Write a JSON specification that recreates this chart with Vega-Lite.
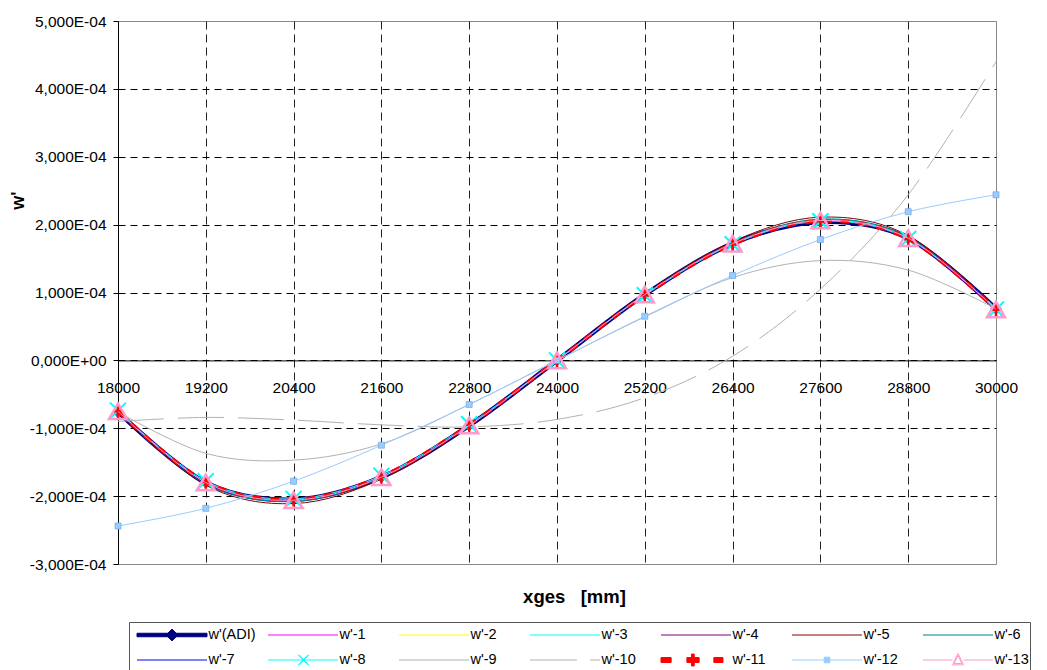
{
  "$schema": "https://vega.github.io/schema/vega-lite/v6.json",
  "autosize": {"type": "none"},
  "padding": {"left": 118, "top": 21, "right": 51, "bottom": 106},
  "width": 878,
  "height": 543,
  "background": "white",
  "config": {
    "view": {"stroke": "#888888", "strokeWidth": 1},
    "axis": {"labelFont": "Liberation Sans", "titleFont": "Liberation Sans", "labelColor": "black", "titleColor": "black"},
    "legend": {"columns": 7, "direction": "horizontal", "symbolSize": 4900, "symbolStrokeWidth": 1, "symbolOffset": 6.5, "labelOffset": 1, "clipHeight": 24, "rowPadding": 1, "columnPadding": 5, "gridAlign": "all", "padding": 1, "strokeColor": "#555555", "fillColor": "white", "labelFont": "Liberation Sans", "labelFontSize": 14.5, "labelColor": "black", "labelLimit": 300}
  },
  "datasets": {
    "series": [
      {"s":"w'(ADI)","x":18000,"y":-7.6e-5},{"s":"w'(ADI)","x":19200,"y":-1.80e-4},{"s":"w'(ADI)","x":20400,"y":-2.05e-4},{"s":"w'(ADI)","x":21600,"y":-1.72e-4},{"s":"w'(ADI)","x":22800,"y":-9.6e-5},{"s":"w'(ADI)","x":24000,"y":0},{"s":"w'(ADI)","x":25200,"y":9.7e-5},{"s":"w'(ADI)","x":26400,"y":1.72e-4},{"s":"w'(ADI)","x":27600,"y":2.04e-4},{"s":"w'(ADI)","x":28800,"y":1.80e-4},{"s":"w'(ADI)","x":30000,"y":7.6e-5},
      {"s":"w'-1","x":18000,"y":-7.4e-5},{"s":"w'-1","x":19200,"y":-1.78e-4},{"s":"w'-1","x":20400,"y":-2.04e-4},{"s":"w'-1","x":21600,"y":-1.70e-4},{"s":"w'-1","x":22800,"y":-9.5e-5},{"s":"w'-1","x":24000,"y":1e-6},{"s":"w'-1","x":25200,"y":9.6e-5},{"s":"w'-1","x":26400,"y":1.71e-4},{"s":"w'-1","x":27600,"y":2.05e-4},{"s":"w'-1","x":28800,"y":1.79e-4},{"s":"w'-1","x":30000,"y":7.4e-5},
      {"s":"w'-2","x":18000,"y":-7.5e-5},{"s":"w'-2","x":19200,"y":-1.79e-4},{"s":"w'-2","x":20400,"y":-2.06e-4},{"s":"w'-2","x":21600,"y":-1.71e-4},{"s":"w'-2","x":22800,"y":-9.6e-5},{"s":"w'-2","x":24000,"y":0},{"s":"w'-2","x":25200,"y":9.7e-5},{"s":"w'-2","x":26400,"y":1.72e-4},{"s":"w'-2","x":27600,"y":2.06e-4},{"s":"w'-2","x":28800,"y":1.80e-4},{"s":"w'-2","x":30000,"y":7.5e-5},
      {"s":"w'-3","x":18000,"y":-7.5e-5},{"s":"w'-3","x":19200,"y":-1.81e-4},{"s":"w'-3","x":20400,"y":-2.07e-4},{"s":"w'-3","x":21600,"y":-1.72e-4},{"s":"w'-3","x":22800,"y":-9.6e-5},{"s":"w'-3","x":24000,"y":0},{"s":"w'-3","x":25200,"y":9.7e-5},{"s":"w'-3","x":26400,"y":1.72e-4},{"s":"w'-3","x":27600,"y":2.08e-4},{"s":"w'-3","x":28800,"y":1.81e-4},{"s":"w'-3","x":30000,"y":7.5e-5},
      {"s":"w'-4","x":18000,"y":-7.3e-5},{"s":"w'-4","x":19200,"y":-1.79e-4},{"s":"w'-4","x":20400,"y":-2.06e-4},{"s":"w'-4","x":21600,"y":-1.71e-4},{"s":"w'-4","x":22800,"y":-9.5e-5},{"s":"w'-4","x":24000,"y":0},{"s":"w'-4","x":25200,"y":9.6e-5},{"s":"w'-4","x":26400,"y":1.71e-4},{"s":"w'-4","x":27600,"y":2.05e-4},{"s":"w'-4","x":28800,"y":1.78e-4},{"s":"w'-4","x":30000,"y":7.3e-5},
      {"s":"w'-5","x":18000,"y":-7.7e-5},{"s":"w'-5","x":19200,"y":-1.84e-4},{"s":"w'-5","x":20400,"y":-2.11e-4},{"s":"w'-5","x":21600,"y":-1.75e-4},{"s":"w'-5","x":22800,"y":-9.7e-5},{"s":"w'-5","x":24000,"y":0},{"s":"w'-5","x":25200,"y":9.8e-5},{"s":"w'-5","x":26400,"y":1.75e-4},{"s":"w'-5","x":27600,"y":2.11e-4},{"s":"w'-5","x":28800,"y":1.84e-4},{"s":"w'-5","x":30000,"y":7.7e-5},
      {"s":"w'-6","x":18000,"y":-7.6e-5},{"s":"w'-6","x":19200,"y":-1.82e-4},{"s":"w'-6","x":20400,"y":-2.08e-4},{"s":"w'-6","x":21600,"y":-1.73e-4},{"s":"w'-6","x":22800,"y":-9.6e-5},{"s":"w'-6","x":24000,"y":0},{"s":"w'-6","x":25200,"y":9.7e-5},{"s":"w'-6","x":26400,"y":1.73e-4},{"s":"w'-6","x":27600,"y":2.08e-4},{"s":"w'-6","x":28800,"y":1.82e-4},{"s":"w'-6","x":30000,"y":7.6e-5},
      {"s":"w'-7","x":18000,"y":-7.6e-5},{"s":"w'-7","x":19200,"y":-1.81e-4},{"s":"w'-7","x":20400,"y":-2.06e-4},{"s":"w'-7","x":21600,"y":-1.72e-4},{"s":"w'-7","x":22800,"y":-9.6e-5},{"s":"w'-7","x":24000,"y":0},{"s":"w'-7","x":25200,"y":9.7e-5},{"s":"w'-7","x":26400,"y":1.72e-4},{"s":"w'-7","x":27600,"y":2.05e-4},{"s":"w'-7","x":28800,"y":1.80e-4},{"s":"w'-7","x":30000,"y":7.6e-5},
      {"s":"w'-8","x":18000,"y":-7.4e-5},{"s":"w'-8","x":19200,"y":-1.78e-4},{"s":"w'-8","x":20400,"y":-2.04e-4},{"s":"w'-8","x":21600,"y":-1.70e-4},{"s":"w'-8","x":22800,"y":-9.4e-5},{"s":"w'-8","x":24000,"y":0},{"s":"w'-8","x":25200,"y":9.6e-5},{"s":"w'-8","x":26400,"y":1.71e-4},{"s":"w'-8","x":27600,"y":2.05e-4},{"s":"w'-8","x":28800,"y":1.79e-4},{"s":"w'-8","x":30000,"y":7.5e-5},
      {"s":"w'-9","x":18000,"y":-7.6e-5},{"s":"w'-9","x":19200,"y":-1.37e-4},{"s":"w'-9","x":20400,"y":-1.47e-4},{"s":"w'-9","x":21600,"y":-1.23e-4},{"s":"w'-9","x":22800,"y":-6.5e-5},{"s":"w'-9","x":24000,"y":0},{"s":"w'-9","x":25200,"y":6.4e-5},{"s":"w'-9","x":26400,"y":1.22e-4},{"s":"w'-9","x":27600,"y":1.47e-4},{"s":"w'-9","x":28800,"y":1.33e-4},{"s":"w'-9","x":30000,"y":7.6e-5},
      {"s":"w'-10","x":18000,"y":-9.0e-5},{"s":"w'-10","x":19200,"y":-8.4e-5},{"s":"w'-10","x":20400,"y":-8.8e-5},{"s":"w'-10","x":21600,"y":-9.5e-5},{"s":"w'-10","x":22800,"y":-9.8e-5},{"s":"w'-10","x":24000,"y":-8.7e-5},{"s":"w'-10","x":25200,"y":-5.5e-5},{"s":"w'-10","x":26400,"y":6e-6},{"s":"w'-10","x":27600,"y":1.05e-4},{"s":"w'-10","x":28800,"y":2.44e-4},{"s":"w'-10","x":30000,"y":4.40e-4},
      {"s":"w'-11","x":18000,"y":-7.5e-5},{"s":"w'-11","x":19200,"y":-1.79e-4},{"s":"w'-11","x":20400,"y":-2.05e-4},{"s":"w'-11","x":21600,"y":-1.71e-4},{"s":"w'-11","x":22800,"y":-9.5e-5},{"s":"w'-11","x":24000,"y":0},{"s":"w'-11","x":25200,"y":9.6e-5},{"s":"w'-11","x":26400,"y":1.71e-4},{"s":"w'-11","x":27600,"y":2.05e-4},{"s":"w'-11","x":28800,"y":1.79e-4},{"s":"w'-11","x":30000,"y":7.5e-5},
      {"s":"w'-12","x":18000,"y":-2.44e-4},{"s":"w'-12","x":19200,"y":-2.18e-4},{"s":"w'-12","x":20400,"y":-1.78e-4},{"s":"w'-12","x":21600,"y":-1.25e-4},{"s":"w'-12","x":22800,"y":-6.5e-5},{"s":"w'-12","x":24000,"y":0},{"s":"w'-12","x":25200,"y":6.5e-5},{"s":"w'-12","x":26400,"y":1.25e-4},{"s":"w'-12","x":27600,"y":1.78e-4},{"s":"w'-12","x":28800,"y":2.19e-4},{"s":"w'-12","x":30000,"y":2.44e-4},
      {"s":"w'-13","x":18000,"y":-7.5e-5},{"s":"w'-13","x":19200,"y":-1.80e-4},{"s":"w'-13","x":20400,"y":-2.06e-4},{"s":"w'-13","x":21600,"y":-1.72e-4},{"s":"w'-13","x":22800,"y":-9.6e-5},{"s":"w'-13","x":24000,"y":0},{"s":"w'-13","x":25200,"y":9.7e-5},{"s":"w'-13","x":26400,"y":1.72e-4},{"s":"w'-13","x":27600,"y":2.06e-4},{"s":"w'-13","x":28800,"y":1.80e-4},{"s":"w'-13","x":30000,"y":7.5e-5}
    ],
    "names": [
      {"s":"w'(ADI)"},{"s":"w'-1"},{"s":"w'-2"},{"s":"w'-3"},{"s":"w'-4"},{"s":"w'-5"},{"s":"w'-6"},
      {"s":"w'-7"},{"s":"w'-8"},{"s":"w'-9"},{"s":"w'-10"},{"s":"w'-11"},{"s":"w'-12"},{"s":"w'-13"}
    ]
  },
  "data": {"name": "series"},
  "encoding": {
    "x": {
      "field": "x", "type": "quantitative",
      "scale": {"domain": [18000, 30000], "nice": false, "zero": false},
      "axis": {
        "values": [18000, 19200, 20400, 21600, 22800, 24000, 25200, 26400, 27600, 28800, 30000],
        "format": "d",
        "offset": -203.6,
        "tickSize": 0,
        "labelPadding": 20,
        "labelFontSize": 15.5,
        "labelFlush": false,
        "labelOverlap": false,
        "domainColor": "black",
        "domainWidth": 1,
        "grid": true,
        "gridColor": "#222222",
        "gridDash": [8, 5],
        "gridWidth": 1,
        "gridOpacity": {"condition": {"test": "datum.value >= 29999 || datum.value <= 18001", "value": 0}, "value": 1},
        "title": "xges\u00a0\u00a0 [mm]",
        "titleFontSize": 18.5,
        "titleFontWeight": "bold",
        "titleX": 456,
        "titleY": 242,
        "titleBaseline": "alphabetic",
        "titleAlign": "center"
      }
    },
    "y": {
      "field": "y", "type": "quantitative",
      "scale": {"domain": [-0.0003, 0.0005], "nice": false, "zero": false},
      "axis": {
        "values": [-0.0003, -0.0002, -0.0001, 0, 0.0001, 0.0002, 0.0003, 0.0004, 0.0005],
        "labelExpr": "replace(replace(replace(replace(format(datum.value, '.3e'), '.', ','), 'e-', 'E-0'), 'e+', 'E+0'), '−', '-')",
        "tickSize": 5,
        "tickColor": "black",
        "labelPadding": 7,
        "labelFontSize": 15.5,
        "labelFlush": false,
        "labelOverlap": false,
        "domainColor": "black",
        "domainWidth": 1,
        "grid": true,
        "gridColor": "black",
        "gridDash": [7, 5],
        "gridWidth": 1,
        "gridOpacity": {"condition": {"test": "datum.value > 0.00045 || datum.value < -0.00025", "value": 0}, "value": 1},
        "title": "w'",
        "titleFontSize": 18,
        "titleFontWeight": "bold",
        "titleX": -100,
        "titleY": 179,
        "titleAngle": -90,
        "titleAlign": "center",
        "titleBaseline": "middle"
      }
    }
  },
  "layer": [
    {
      "transform": [{"filter": {"field": "s", "equal": "w'(ADI)"}}],
      "mark": {"type": "line", "interpolate": "cardinal", "strokeWidth": 4.5},
      "encoding": {"color": {"field": "s", "type": "nominal", "legend": null,
        "scale": {"domain": ["w'-13","w'-12","w'-11","w'-10","w'-9","w'-8","w'-7","w'-6","w'-5","w'-4","w'-3","w'-2","w'-1","w'(ADI)"],
                  "range": ["#FF99CC","#99CCFF","#FF0000","#B2B2B2","#B2B2B2","#00FFFF","#0000FF","#008080","#800000","#800080","#00FFFF","#FFFF00","#FF00FF","#000080"]}}}
    },
    {
      "transform": [{"filter": {"field": "s", "equal": "w'(ADI)"}}],
      "mark": {"type": "point", "shape": "diamond", "filled": true, "color": "#666699", "size": 144, "opacity": 1}
    },
    {
      "transform": [{"filter": {"field": "s", "oneOf": ["w'-1","w'-2","w'-3","w'-4","w'-5","w'-6","w'-7","w'-8","w'-9"]}}],
      "mark": {"type": "line", "interpolate": "cardinal", "strokeWidth": 1},
      "encoding": {"color": {"field": "s", "type": "nominal", "legend": null}}
    },
    {
      "transform": [{"filter": {"field": "s", "equal": "w'-8"}}],
      "mark": {"type": "point", "shape": "M-1,-1L1,1M-1,1L1,-1", "filled": false, "color": "#00FFFF", "strokeWidth": 2, "size": 256, "opacity": 1}
    },
    {
      "transform": [{"filter": {"field": "s", "equal": "w'-10"}}],
      "mark": {"type": "line", "interpolate": "cardinal", "strokeWidth": 1, "strokeDash": [46, 14]},
      "encoding": {"color": {"field": "s", "type": "nominal", "legend": null}}
    },
    {
      "transform": [{"filter": {"field": "s", "equal": "w'-11"}}],
      "mark": {"type": "line", "interpolate": "cardinal", "strokeWidth": 3.5, "strokeDash": [9, 9]},
      "encoding": {"color": {"field": "s", "type": "nominal", "legend": null}}
    },
    {
      "transform": [{"filter": {"field": "s", "equal": "w'-11"}}],
      "mark": {"type": "point", "shape": "M-0.6,0L0.6,0M0,-1L0,1", "filled": false, "color": "#FF0000", "strokeWidth": 2.5, "size": 196, "opacity": 1}
    },
    {
      "transform": [{"filter": {"field": "s", "equal": "w'-12"}}],
      "mark": {"type": "line", "interpolate": "cardinal", "strokeWidth": 1},
      "encoding": {"color": {"field": "s", "type": "nominal", "legend": null}}
    },
    {
      "transform": [{"filter": {"field": "s", "equal": "w'-12"}}],
      "mark": {"type": "point", "shape": "square", "filled": true, "color": "#99CCFF", "stroke": "#6FA8E8", "strokeWidth": 0.7, "size": 36, "opacity": 1}
    },
    {
      "transform": [{"filter": {"field": "s", "equal": "w'-13"}}],
      "mark": {"type": "line", "interpolate": "cardinal", "strokeWidth": 1},
      "encoding": {"color": {"field": "s", "type": "nominal", "legend": null}}
    },
    {
      "transform": [{"filter": {"field": "s", "equal": "w'-13"}}],
      "mark": {"type": "point", "shape": "triangle-up", "filled": false, "color": "#FF99CC", "strokeWidth": 2.5, "size": 324, "opacity": 1}
    },
    {
      "data": {"name": "names"},
      "mark": {"type": "point", "filled": true, "opacity": 1, "strokeWidth": 1},
      "encoding": {
        "stroke": {"field": "s", "type": "nominal",
          "scale": {"domain": ["w'(ADI)","w'-1","w'-2","w'-3","w'-4","w'-5","w'-6","w'-7","w'-8","w'-9","w'-10","w'-11","w'-12","w'-13"],
                    "range": ["#000080","#FF00FF","#FFFF00","#00FFFF","#800080","#800000","#008080","#0000FF","#00FFFF","#B2B2B2","#B2B2B2","#FF0000","#99CCFF","#FF99CC"]},
          "legend": {"title": null, "orient": "none", "legendX": 11, "legendY": 601, "direction": "horizontal"}},
        "fill": {"field": "s", "type": "nominal",
          "scale": {"domain": ["w'(ADI)","w'-1","w'-2","w'-3","w'-4","w'-5","w'-6","w'-7","w'-8","w'-9","w'-10","w'-11","w'-12","w'-13"],
                    "range": ["#000080","transparent","transparent","transparent","transparent","transparent","transparent","transparent","transparent","transparent","transparent","#FF0000","#99CCFF","#FFFFFF"]},
          "legend": {"title": null, "orient": "none", "legendX": 11, "legendY": 601, "direction": "horizontal"}},
        "shape": {"field": "s", "type": "nominal",
          "scale": {"domain": ["w'(ADI)","w'-1","w'-2","w'-3","w'-4","w'-5","w'-6","w'-7","w'-8","w'-9","w'-10","w'-11","w'-12","w'-13"],
                    "range": [
                      "M-1,-0.05H1V0.05H-1ZM0,-0.17L0.17,0L0,0.17L-0.17,0Z",
                      "M-1,0H1","M-1,0H1","M-1,0H1","M-1,0H1","M-1,0H1","M-1,0H1","M-1,0H1",
                      "M-1,0H1M-0.14,-0.15L0.14,0.15M-0.14,0.15L0.14,-0.15M-0.11,-0.15L0.17,0.15M-0.11,0.15L0.17,-0.15",
                      "M-1,0H1",
                      "M-1,0H0.34M0.71,0H1",
                      "M-1,-0.07H-0.71V0.07H-1ZM-0.26,-0.07H0.09V0.07H-0.26ZM-0.13,-0.17H-0.05V0.17H-0.13ZM0.51,-0.07H0.77V0.07H0.51Z",
                      "M-1,0H1M-0.08,-0.08H0.08V0.08H-0.08Z",
                      "M-1,0H-0.16M0.16,0H1M0,-0.19L0.16,0.14L-0.16,0.14ZM0,-0.13L0.11,0.1L-0.11,0.1Z"
                    ]},
          "legend": {"title": null, "orient": "none", "legendX": 11, "legendY": 601, "direction": "horizontal"}}
      }
    }
  ]
}
